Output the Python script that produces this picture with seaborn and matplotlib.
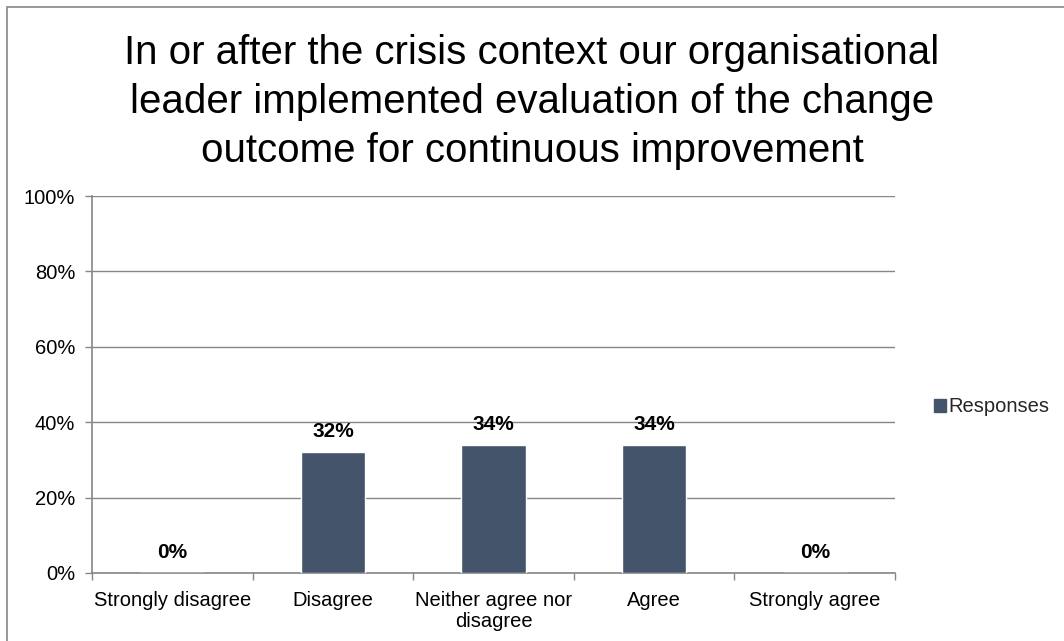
import matplotlib
matplotlib.use("Agg")
import matplotlib.pyplot as plt
import matplotlib.patches as mpatches
from matplotlib.ticker import PercentFormatter, MultipleLocator
import seaborn as sns
import pandas as pd

title = ("In or after the crisis context our organisational\n"
         "leader implemented evaluation of the change\n"
         "outcome for continuous improvement")
categories = ["Strongly disagree", "Disagree", "Neither agree nor\ndisagree",
              "Agree", "Strongly agree"]
responses = [0, 32, 34, 34, 0]
series_name = "Responses"

bar_color = "#44546A"
axis_gray = "#868686"

sns.set_theme(style="white")
plt.rcParams["font.family"] = ["Liberation Sans", "DejaVu Sans"]

df = pd.DataFrame({"category": categories, "value": responses})

fig = plt.figure(figsize=(10.64, 6.41), dpi=100)
ax = fig.add_axes([92 / 1064, 68 / 641, (895 - 92) / 1064, (573 - 196) / 641])

sns.barplot(data=df, x="category", y="value", color=bar_color, width=0.4,
            saturation=1, ax=ax, zorder=3)

ax.set_ylim(0, 100)
ax.set_xlim(-0.5, len(categories) - 0.5)
ax.yaxis.set_major_locator(MultipleLocator(20))
ax.yaxis.set_major_formatter(PercentFormatter(decimals=0))
ax.grid(axis="y", color=axis_gray, linewidth=1, zorder=0)
ax.set_axisbelow(True)

for side in ["top", "right"]:
    ax.spines[side].set_visible(False)
for side in ["left", "bottom"]:
    ax.spines[side].set_color(axis_gray)
    ax.spines[side].set_linewidth(1.2)

ax.set_xlabel("")
ax.set_ylabel("")
ax.tick_params(axis="y", which="major", left=True, length=5, width=1,
               color=axis_gray, labelsize=14.5, pad=7, labelcolor="black")
ax.tick_params(axis="x", which="major", bottom=False, labelsize=14.5, pad=7,
               labelcolor="black")
ax.set_xticks(range(len(categories)))
ax.set_xticklabels(categories, linespacing=1.15)
# category boundary ticks on the x axis
ax.set_xticks([i - 0.5 for i in range(len(categories) + 1)], minor=True)
ax.tick_params(axis="x", which="minor", bottom=True, length=5, width=1,
               color=axis_gray)

for i, v in enumerate(responses):
    ax.text(i, v + 3.0, f"{v:.0f}%", ha="center", va="bottom",
            fontsize=15, fontweight="bold", color="black", zorder=4)

fig.text(0.5, 1 - 102 / 641, title, ha="center", va="center", fontsize=29,
         color="black", linespacing=1.38)

handle = mpatches.Patch(color=bar_color, label=series_name)
fig.legend(handles=[handle], loc="center left",
           bbox_to_anchor=(916 / 1064, 1 - 407 / 641), frameon=False,
           fontsize=14.5, handlelength=0.6, handleheight=0.6, handletextpad=0.1)

border = mpatches.Rectangle((7 / 1064, -0.1), 1.2, 1 - 7 / 641 + 0.1,
                            transform=fig.transFigure, fill=False,
                            edgecolor=axis_gray, linewidth=1.2)
fig.patches.append(border)

fig.savefig("out.png", dpi=100, facecolor="white")
